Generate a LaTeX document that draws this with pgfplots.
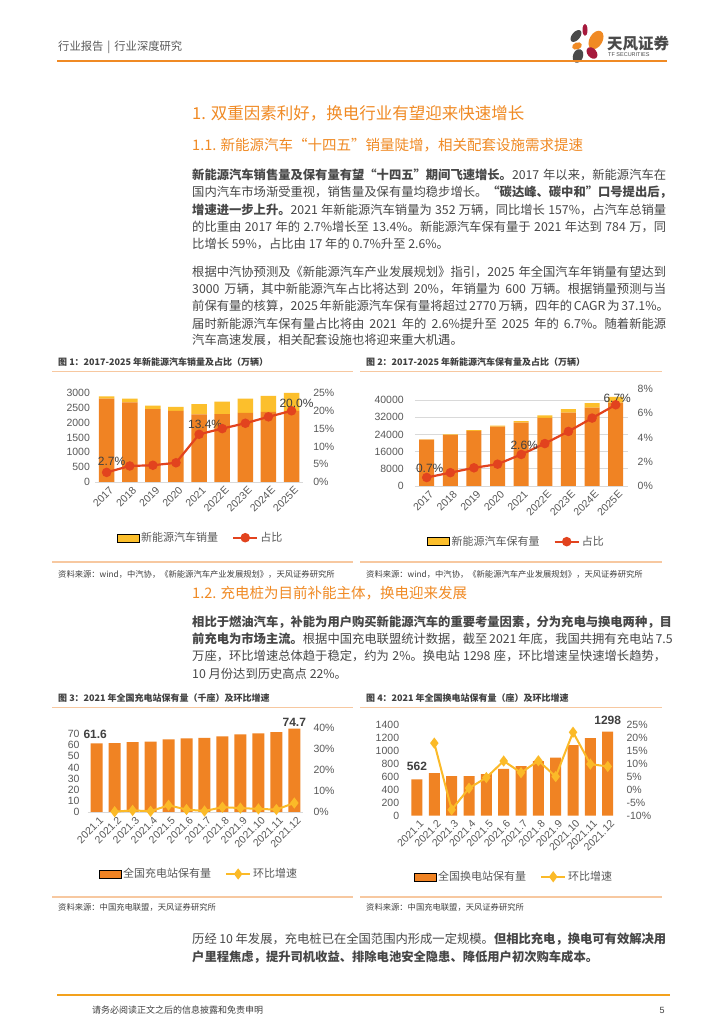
\documentclass[border=0pt]{standalone}
\usepackage{fontspec}
\setmainfont{Noto Sans CJK SC}
\newfontfamily\arialf{Liberation Sans}
\usepackage{pgfplots}
\pgfplotsset{compat=1.18}
\XeTeXlinebreaklocale "zh"
\XeTeXlinebreakskip=0pt plus 2pt minus 0.3pt

\definecolor{barorange}{HTML}{F08323}
\definecolor{nevyellow}{HTML}{FCBF2C}
\definecolor{linered}{HTML}{E2431E}
\definecolor{lineyellow}{HTML}{FBBA28}
\definecolor{peach}{HTML}{F7C8A0}
\definecolor{hdrorange}{HTML}{F08A24}
\definecolor{tickgray}{HTML}{595959}
\definecolor{labelgray}{HTML}{404040}
\definecolor{bodygray}{HTML}{474747}
\definecolor{gridgray}{HTML}{D9D9D9}
\definecolor{logogray}{HTML}{4A4A4A}
\definecolor{logored}{HTML}{A6193C}

\pgfplotsset{
  basechart/.style={scale only axis, anchor=south west,
    axis line style={draw=none}, tick style={draw=none}, major tick length=0pt,
    tick label style={font=\arialf\fontsize{10.5}{10.5}\selectfont, text=tickgray},
    xticklabel style={rotate=45, anchor=north east, inner sep=1pt, yshift=-3pt},
    /pgf/number format/assume math mode=true, /pgf/number format/1000 sep={},
    clip=false},
  rightax/.style={hide x axis, yticklabel pos=right, yticklabel={\pgfmathprintnumber{\tick}\%},
    yticklabel style={inner sep=2pt, xshift=8pt}},
  my bar legend/.style={legend image code/.code={\fill[##1] (0pt,-4pt) rectangle (22pt,4pt);}},
  my line legend/.style={legend image code/.code={\draw[mark repeat=2,mark phase=2,##1] plot coordinates {(0pt,0pt) (12pt,0pt) (24pt,0pt)};}},
  legbase/.style={legend style={anchor=center, draw=none, fill=none, legend columns=-1,
    font=\fontsize{11}{11}\selectfont, text=tickgray, inner sep=0pt,
    /tikz/every even column/.append style={column sep=12pt}}},
}

\newcommand\bl[2]{\node[anchor=west,inner sep=0pt,text=bodygray,font=\fontsize{12.3}{14}\selectfont] at (192,#1) {\makebox[474pt][s]{#2}};}
\newcommand\blast[2]{\node[anchor=west,inner sep=0pt,text=bodygray,font=\fontsize{12.3}{14}\selectfont] at (192,#1) {#2};}
\newcommand\capt[3]{\node[anchor=west,inner sep=0pt,text=labelgray,font=\bfseries\fontsize{9}{10}\selectfont] at (#1,#2) {#3};}
\newcommand\src[3]{\node[anchor=west,inner sep=0pt,text=labelgray,font=\fontsize{8.3}{9}\selectfont] at (#1,#2) {#3};}

\begin{document}
\begin{tikzpicture}[x=1pt,y=1pt]
\fill[white] (0,0) rectangle (724,1024);
\useasboundingbox (0,0) rectangle (724,1024);

% ---------- header ----------
\node[anchor=west,inner sep=0pt,text=tickgray,font=\fontsize{11.3}{12}\selectfont] at (58,977) {行业报告\hspace{4pt}|\hspace{4pt}行业深度研究};
\fill[logogray, rotate around={-40:(576,988)}] (576,988) ellipse (4pt and 7pt);
\fill[logored] (585,994) ellipse (2.5pt and 6pt);
\fill[hdrorange, rotate around={-30:(596,984)}] (596,984) ellipse (6.5pt and 10pt);
\fill[hdrorange, rotate around={20:(577,978)}] (577,978) ellipse (5pt and 3.5pt);
\fill[logored, rotate around={40:(592,971)}] (592,971) ellipse (4.5pt and 6.5pt);
\fill[logogray, rotate around={-20:(578,968)}] (578,968) ellipse (5pt and 7pt);
\node[anchor=west,inner sep=0pt,text=logogray,font=\bfseries\fontsize{15.5}{16}\selectfont] at (607,980) {天风证券};
\node[anchor=west,inner sep=0pt,text=logogray,font=\arialf\fontsize{5.5}{6}\selectfont] at (608,969) {TF SECURITIES};
\draw[hdrorange, line width=1.5pt] (57,963) -- (667,963);

% ---------- headings and text ----------
\node[anchor=west,inner sep=0pt,text=hdrorange,font=\fontsize{16.5}{18}\selectfont] at (192,911) {1. 双重因素利好，换电行业有望迎来快速增长};
\node[anchor=west,inner sep=0pt,text=hdrorange,font=\fontsize{14.5}{16}\selectfont] at (192,879) {1.1. 新能源汽车“十四五”销量陡增，相关配套设施需求提速};

\bl{849.2}{\textbf{新能源汽车销售量及保有量有望“十四五”期间飞速增长。}2017 年以来，新能源汽车在}
\bl{831.8}{国内汽车市场渐受重视，销售量及保有量均稳步增长。\textbf{“碳达峰、碳中和”口号提出后，}}
\bl{814.4}{\textbf{增速进一步上升。}2021 年新能源汽车销量为 352 万辆，同比增长 157\%，占汽车总销量}
\bl{797}{的比重由 2017 年的 2.7\%增长至 13.4\%。新能源汽车保有量于 2021 年达到 784 万，同}
\blast{779.6}{比增长 59\%，占比由 17 年的 0.7\%升至 2.6\%。}

\bl{751.6}{根据中汽协预测及《新能源汽车产业发展规划》指引，2025 年全国汽车年销量有望达到}
\bl{734.6}{3000 万辆，其中新能源汽车占比将达到 20\%，年销量为 600 万辆。根据销量预测与当}
\bl{717.6}{前保有量的核算，2025 年新能源汽车保有量将超过 2770 万辆，四年的 CAGR 为 37.1\%。}
\bl{700.6}{届时新能源汽车保有量占比将由 2021 年的 2.6\%提升至 2025 年的 6.7\%。随着新能源}
\blast{683.6}{汽车高速发展，相关配套设施也将迎来重大机遇。}

\node[anchor=west,inner sep=0pt,text=hdrorange,font=\fontsize{14.5}{16}\selectfont] at (192,431) {1.2. 充电桩为目前补能主体，换电迎来发展};
\bl{402.3}{\textbf{相比于燃油汽车，补能为用户购买新能源汽车的重要考量因素，分为充电与换电两种，目}}
\bl{385}{\textbf{前充电为市场主流。}根据中国充电联盟统计数据，截至 2021 年底，我国共拥有充电站 7.5}
\bl{367.7}{万座，环比增速总体趋于稳定，约为 2\%。换电站 1298 座，环比增速呈快速增长趋势，}
\blast{350.4}{10 月份达到历史高点 22\%。}

\bl{85}{历经 10 年发展，充电桩已在全国范围内形成一定规模。\textbf{但相比充电，换电可有效解决用}}
\blast{66.5}{\textbf{户里程焦虑，提升司机收益、排除电池安全隐患、降低用户初次购车成本。}}

% footer
\draw[hdrorange!80!yellow, line width=1.5pt] (57,29) -- (670,29);
\node[anchor=west,inner sep=0pt,text=labelgray,font=\fontsize{9}{10}\selectfont] at (92,14) {请务必阅读正文之后的信息披露和免责申明};
\node[inner sep=0pt,text=labelgray,font=\arialf\fontsize{9}{10}\selectfont] at (662,14) {5};

% ---------- captions / rules ----------
\capt{58}{662}{图 1：2017-2025 年新能源汽车销量及占比（万辆）}
\capt{366}{662}{图 2：2017-2025 年新能源汽车保有量及占比（万辆）}
\draw[peach, line width=1.2pt] (52,652.5) -- (353,652.5);
\draw[peach, line width=1.2pt] (360,652.5) -- (662,652.5);
\draw[peach, line width=1.2pt] (52,462) -- (353,462);
\draw[peach, line width=1.2pt] (360,462) -- (662,462);
\src{58}{450}{资料来源：wind，中汽协，《新能源汽车产业发展规划》，天风证券研究所}
\src{366}{450}{资料来源：wind，中汽协，《新能源汽车产业发展规划》，天风证券研究所}

\capt{58}{326.3}{图 3：2021 年全国充电站保有量（千座）及环比增速}
\capt{366}{326.3}{图 4：2021 年全国换电站保有量（座）及环比增速}
\draw[peach, line width=1.2pt] (52,316.3) -- (353,316.3);
\draw[peach, line width=1.2pt] (360,316.3) -- (662,316.3);
\draw[peach, line width=1.2pt] (52,127) -- (353,127);
\draw[peach, line width=1.2pt] (360,127) -- (662,127);
\src{58}{117}{资料来源：中国充电联盟，天风证券研究所}
\src{366}{117}{资料来源：中国充电联盟，天风证券研究所}

% ---------- Chart 1 ----------
\begin{axis}[basechart, at={(95.1pt,542pt)}, width=208pt, height=89pt,
  xmin=-0.5, xmax=8.5, ymin=0, ymax=3000,
  ybar stacked, bar width=15.5pt,
  xtick={0,...,8}, xticklabels={2017,2018,2019,2020,2021,2022E,2023E,2024E,2025E},
  ytick={0,500,...,3000}, yticklabel style={inner sep=2pt, xshift=-3pt}]
\addplot[fill=barorange, draw=none] coordinates {(0,2810) (1,2684) (2,2456) (3,2394) (4,2275) (5,2290) (6,2330) (7,2360) (8,2400)};
\addplot[fill=nevyellow, draw=none] coordinates {(0,78) (1,125) (2,121) (3,137) (4,352) (5,420) (6,480) (7,545) (8,600)};
\draw[gridgray, line width=0.8pt] (rel axis cs:0,0) -- (rel axis cs:1,0);
\end{axis}
\begin{axis}[basechart, rightax, at={(95.1pt,542pt)}, width=208pt, height=89pt,
  xmin=-0.5, xmax=8.5, ymin=0, ymax=25, ytick={0,5,...,25},
  legbase, legend style={at={(0.507,-0.626)}}]
\addlegendimage{my bar legend, fill=nevyellow}
\addlegendentry{新能源汽车销量}
\addplot[linered, line width=2.2pt, mark=*, mark size=3.6pt, mark options={fill=linered}, my line legend]
  coordinates {(0,2.7) (1,4.5) (2,4.7) (3,5.4) (4,13.4) (5,15.0) (6,16.5) (7,18.3) (8,20.0)};
\addlegendentry{占比}
\node[font=\arialf\fontsize{12}{12}\selectfont, text=labelgray, xshift=5pt, yshift=10.7pt] at (axis cs:0,2.7) {2.7\%};
\node[font=\arialf\fontsize{12}{12}\selectfont, text=labelgray, xshift=6pt, yshift=10.3pt] at (axis cs:4,13.4) {13.4\%};
\node[font=\arialf\fontsize{12}{12}\selectfont, text=labelgray, xshift=5pt, yshift=7.8pt] at (axis cs:8,20.0) {20.0\%};
\end{axis}

% ---------- Chart 2 ----------
\begin{axis}[basechart, at={(414.9pt,538pt)}, width=212.6pt, height=97pt,
  xmin=-0.5, xmax=8.5, ymin=0, ymax=45116,
  ybar stacked, bar width=15pt,
  ymajorgrids, grid style={gridgray, line width=0.7pt},
  xtick={0,...,8}, xticklabels={2017,2018,2019,2020,2021,2022E,2023E,2024E,2025E},
  ytick={0,8000,...,40000}, yticklabel style={inner sep=2pt, xshift=-9pt},
  scaled y ticks=false]
\addplot[fill=barorange, draw=none] coordinates {(0,21547) (1,23739) (2,25619) (3,27608) (4,29416) (5,31650) (6,34090) (7,36440) (8,38720)};
\addplot[fill=nevyellow, draw=none] coordinates {(0,153) (1,261) (2,381) (3,492) (4,784) (5,1150) (6,1610) (7,2160) (8,2780)};
\end{axis}
\begin{axis}[basechart, rightax, at={(414.9pt,538pt)}, width=212.6pt, height=97pt,
  xmin=-0.5, xmax=8.5, ymin=0, ymax=8, ytick={0,2,...,8},
  legbase, legend style={at={(0.478,-0.574)}}]
\addlegendimage{my bar legend, fill=nevyellow}
\addlegendentry{新能源汽车保有量}
\addplot[linered, line width=2.2pt, mark=*, mark size=3.6pt, mark options={fill=linered}, my line legend]
  coordinates {(0,0.7) (1,1.1) (2,1.5) (3,1.8) (4,2.6) (5,3.5) (6,4.5) (7,5.6) (8,6.7)};
\addlegendentry{占比}
\node[font=\arialf\fontsize{12}{12}\selectfont, text=labelgray, xshift=3pt, yshift=9.5pt] at (axis cs:0,0.7) {0.7\%};
\node[font=\arialf\fontsize{12}{12}\selectfont, text=labelgray, xshift=3pt, yshift=9.5pt] at (axis cs:4,2.6) {2.6\%};
\node[font=\arialf\fontsize{12}{12}\selectfont, text=labelgray, xshift=1.5pt, yshift=6pt] at (axis cs:8,6.7) {6.7\%};
\end{axis}

% ---------- Chart 3 ----------
\begin{axis}[basechart, at={(87.7pt,211.7pt)}, width=215.6pt, height=84.6pt,
  xmin=-0.5, xmax=11.5, ymin=0, ymax=75.6,
  ybar, bar width=12pt,
  xtick={0,...,11}, xticklabels={2021.1,2021.2,2021.3,2021.4,2021.5,2021.6,2021.7,2021.8,2021.9,2021.10,2021.11,2021.12},
  ytick={0,10,...,70}, yticklabel style={inner sep=2pt, xshift=-6pt}]
\addplot[fill=barorange, draw=none] coordinates {(0,61.6) (1,61.9) (2,62.8) (3,63.1) (4,65.2) (5,66.1) (6,66.4) (7,67.9) (8,69.6) (9,70.5) (10,71.7) (11,74.7)};
\draw[gridgray, line width=0.8pt] (rel axis cs:0,0) -- (rel axis cs:1,0);
\node[font=\arialf\bfseries\fontsize{12}{12}\selectfont, text=labelgray, xshift=-1.5pt, yshift=9.4pt] at (axis cs:0,61.6) {61.6};
\node[font=\arialf\bfseries\fontsize{12}{12}\selectfont, text=labelgray, yshift=6pt] at (axis cs:11,74.7) {74.7};
\end{axis}
\begin{axis}[basechart, rightax, at={(87.7pt,211.7pt)}, width=215.6pt, height=84.6pt,
  xmin=-0.5, xmax=11.5, ymin=0, ymax=40, ytick={0,10,...,40},
  legbase, legend style={at={(0.516,-0.729)}}]
\addlegendimage{my bar legend, fill=barorange}
\addlegendentry{全国充电站保有量}
\addplot[lineyellow, line width=2pt, mark=diamond*, mark size=4pt, mark options={fill=lineyellow}, my line legend]
  coordinates {(1,0.3) (2,0.9) (3,0.5) (4,3.3) (5,1.3) (6,0.6) (7,2.4) (8,2.0) (9,1.6) (10,1.3) (11,4.4)};
\addlegendentry{环比增速}
\end{axis}

% ---------- Chart 4 ----------
\begin{axis}[basechart, at={(408.3pt,208.3pt)}, width=208.1pt, height=90.7pt,
  xmin=-0.5, xmax=11.5, ymin=0, ymax=1400,
  ybar, bar width=11pt,
  xtick={0,...,11}, xticklabels={2021.1,2021.2,2021.3,2021.4,2021.5,2021.6,2021.7,2021.8,2021.9,2021.10,2021.11,2021.12},
  ytick={0,200,...,1400}, yticklabel style={inner sep=2pt, xshift=-7pt}]
\addplot[fill=barorange, draw=none] coordinates {(0,562) (1,659) (2,612) (3,612) (4,643) (5,721) (6,767) (7,844) (8,896) (9,1091) (10,1199) (11,1298)};
\node[font=\arialf\bfseries\fontsize{12}{12}\selectfont, text=labelgray, yshift=12.6pt] at (axis cs:0,562) {562};
\node[font=\arialf\bfseries\fontsize{12}{12}\selectfont, text=labelgray, yshift=10.9pt] at (axis cs:11,1298) {1298};
\end{axis}
\begin{axis}[basechart, rightax, at={(408.3pt,208.3pt)}, width=208.1pt, height=90.7pt,
  xmin=-0.5, xmax=11.5, ymin=-10, ymax=25, ytick={-10,-5,...,25},
  legbase, legend style={at={(0.508,-0.673)}}]
\addlegendimage{my bar legend, fill=barorange}
\addlegendentry{全国换电站保有量}
\addplot[lineyellow, line width=2pt, mark=diamond*, mark size=4pt, mark options={fill=lineyellow}, my line legend]
  coordinates {(1,18.0) (2,-7.7) (3,0.6) (4,4.7) (5,11.1) (6,6.6) (7,11.2) (8,5.1) (9,22.2) (10,9.9) (11,9.0)};
\addlegendentry{环比增速}
\end{axis}
\end{tikzpicture}
\end{document}
